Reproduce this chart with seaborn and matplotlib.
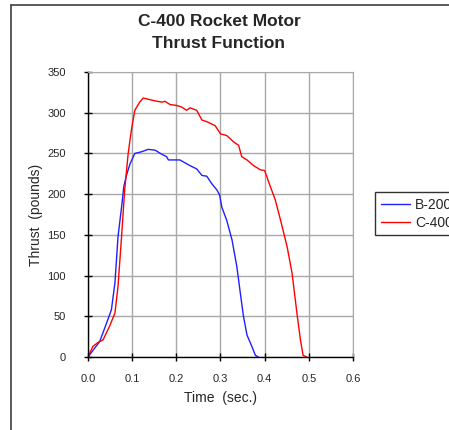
import numpy as np
import pandas as pd
import matplotlib
matplotlib.use("Agg")
import matplotlib.pyplot as plt
import seaborn as sns
from matplotlib.lines import Line2D

# --- data ---
b200_time = [0.0, 0.0265, 0.045, 0.053, 0.061, 0.068, 0.076, 0.081, 0.087, 0.095,
             0.106, 0.121, 0.136, 0.152, 0.167, 0.178, 0.182, 0.2, 0.208, 0.231,
             0.246, 0.258, 0.269, 0.28, 0.292, 0.298, 0.303, 0.314, 0.326, 0.337,
             0.345, 0.352, 0.36, 0.371, 0.379, 0.386]
b200_thrust = [0, 19, 46, 58, 91, 148, 184, 209, 223, 237,
               250, 252, 255, 254, 249, 246, 242, 242, 242, 235,
               231, 223, 222, 213, 205, 199, 184, 168, 144, 111,
               78, 50, 27, 13, 2, 0]

c400_time = [0.0, 0.011, 0.023, 0.034, 0.049, 0.061, 0.068, 0.076, 0.083, 0.091,
             0.098, 0.106, 0.117, 0.125, 0.133, 0.148, 0.167, 0.174, 0.186, 0.2,
             0.212, 0.223, 0.231, 0.246, 0.258, 0.269, 0.288, 0.3, 0.314, 0.33,
             0.341, 0.348, 0.36, 0.375, 0.39, 0.4, 0.409, 0.424, 0.436, 0.451,
             0.462, 0.473, 0.481, 0.487, 0.495]
c400_thrust = [0, 13, 18, 21, 38, 54, 87, 148, 205, 250,
               278, 303, 313, 318, 317, 315, 313, 314, 310, 309,
               307, 303, 306, 303, 291, 289, 284, 274, 272, 264,
               260, 246, 242, 235, 230, 229, 215, 193, 168, 135,
               103, 54, 21, 2, 0]

df = pd.concat([
    pd.DataFrame({"time": b200_time, "thrust": b200_thrust, "motor": "B-200"}),
    pd.DataFrame({"time": c400_time, "thrust": c400_thrust, "motor": "C-400"}),
])

sns.set_style("white")
plt.rcParams["font.family"] = ["Liberation Sans", "DejaVu Sans"]

fig = plt.figure(figsize=(4.49, 4.30), dpi=100)
ax = fig.add_axes([88 / 449, 1 - 357 / 430, 265 / 449, 285 / 430])

sns.lineplot(data=df, x="time", y="thrust", hue="motor",
             palette={"B-200": "#2020ff", "C-400": "#ff0000"},
             linewidth=1.0, estimator=None, sort=False, ax=ax)

ax.set_xlim(0, 0.6)
ax.set_ylim(0, 350)
ax.set_xticks(np.arange(0, 0.61, 0.1))
ax.set_xticklabels([f"{v:.1f}" for v in np.arange(0, 0.61, 0.1)])
ax.set_yticks(range(0, 351, 50))
ax.grid(True, color="#a8a8a8", linewidth=1.0)
ax.set_axisbelow(True)
for s in ["top", "right"]:
    ax.spines[s].set_color("#a8a8a8")
for s in ["left", "bottom"]:
    ax.spines[s].set_color("black")
    ax.spines[s].set_linewidth(1.0)
ax.tick_params(direction="inout", length=6, width=1, color="black",
               labelsize=8, bottom=True, left=True)
ax.tick_params(axis="x", pad=9)
ax.tick_params(axis="y", pad=13)

ax.set_xlabel("Time  (sec.)", fontsize=10, labelpad=5)
ax.set_ylabel("Thrust  (pounds)", fontsize=10, labelpad=3)

fig.text(219 / 449, 1 - 22 / 430, "C-400 Rocket Motor", ha="center", va="center",
         fontsize=12.5, fontweight="bold")
fig.text(219 / 449, 1 - 43 / 430, "Thrust Function", ha="center", va="center",
         fontsize=12.5, fontweight="bold")

leg = ax.legend(loc="upper left", bbox_to_anchor=(375 / 449, 1 - 192 / 430),
                bbox_transform=fig.transFigure, frameon=True, fancybox=False,
                fontsize=10, handlelength=2.15, borderpad=0.4, labelspacing=0.3,
                handletextpad=0.35, borderaxespad=0)
leg.get_frame().set_edgecolor("black")
leg.get_frame().set_linewidth(1.0)

# outer chart border (left and top edges)
fig.add_artist(Line2D([11 / 449, 11 / 449], [0, 1 - 5 / 430], color="#404040", lw=1.2))
fig.add_artist(Line2D([11 / 449, 1], [1 - 5 / 430, 1 - 5 / 430], color="#404040", lw=1.2))

fig.savefig("out.png", dpi=100)
